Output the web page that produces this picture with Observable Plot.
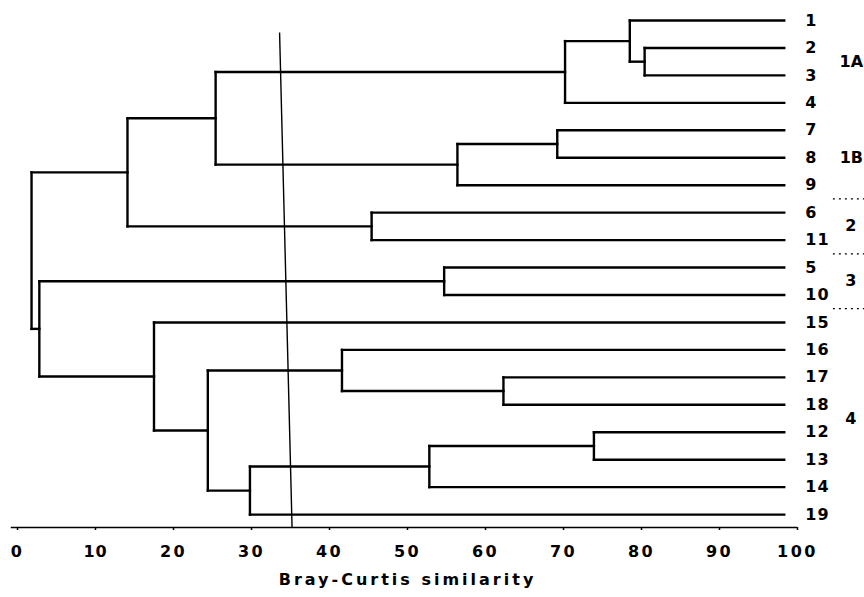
<!DOCTYPE html>
<html><head><meta charset="utf-8">
<script src="https://cdn.jsdelivr.net/npm/d3@7"></script>
<script src="https://cdn.jsdelivr.net/npm/@observablehq/plot@0.6"></script>
<style>
body{margin:0;background:#fff}
#chart svg{display:block;background:#fff}
</style>
</head><body><div id="chart"></div>
<script>
// Leaves, top to bottom
const leaves = ["1","2","3","4","7","8","9","6","11","5","10","15","16","17","18","12","13","14","19"];
// Merges: node id, left child, right child, similarity (%)
const mergeIds        = ["A","B","C","D","E","G","F","H","K","R","Q","O","P","N","M","L","J","I"];
const mergeLeft       = ["2","1","B","7","D","C","6","G","5","12","R","Q","17","16","N","15","K","H"];
const mergeRight      = ["3","A","4","8","9","E","11","F","10","13","14","19","18","P","O","M","L","J"];
const mergeSimilarity = [80.4,78.5,70.2,69.2,56.4,25.4,45.4,14.1,54.7,73.9,52.8,29.8,62.3,41.6,24.4,17.5,2.8,1.8];
const leafSimilarity = 98.3;
// Groups on the right
const groupLabels = ["1A","1B","2","3","4"];
const groupFirst  = ["1","7","6","5","15"];
const groupLast   = ["4","9","11","10","19"];
// Cut-off line (similarity at its top and bottom ends, as scanned)
const cutoffSimilarity = [33.6, 35.2];
// Axis
const xTicks = [0,10,20,30,40,50,60,70,80,90,100];
const xLabel = "Bray-Curtis similarity";

// Build tree geometry
const pos = new Map();
leaves.forEach((l,i)=>pos.set(l,{x:leafSimilarity,y:i}));
const segs = [];
mergeIds.forEach((id,k)=>{
  const s = mergeSimilarity[k];
  const a = pos.get(mergeLeft[k]), b = pos.get(mergeRight[k]);
  segs.push({x1:a.x,y1:a.y,x2:s,y2:a.y});
  segs.push({x1:b.x,y1:b.y,x2:s,y2:b.y});
  segs.push({x1:s,y1:a.y,x2:s,y2:b.y});
  pos.set(id,{x:s,y:(a.y+b.y)/2});
});
const idx = l => leaves.indexOf(l);
const groups = groupLabels.map((g,i)=>({label:g, y:(idx(groupFirst[i])+idx(groupLast[i]))/2}));
const seps = [];
for (let i=1;i<groupLabels.length-1;i++){
  seps.push({y:(idx(groupLast[i]) + idx(groupFirst[i+1]))/2});
}
const yMax = leaves.length - 1 + 0.47;

const font = "DejaVu Sans, Arial, sans-serif";
const chart = Plot.plot({
  width: 864, height: 597,
  marginLeft: 17, marginRight: 67, marginTop: 20, marginBottom: 70,
  x: {domain:[0,100], axis: null},
  y: {domain:[0,yMax], reverse: true, axis: null},
  style: {fontFamily: font, fontWeight: "bold", color: "#000", background: "#fff"},
  marks: [
    Plot.link(segs, {x1:"x1", y1:"y1", x2:"x2", y2:"y2", stroke:"#000", strokeWidth:2.4, strokeLinecap:"square"}),
    Plot.link([cutoffSimilarity], {x1:d=>d[0], y1:()=>0.44, x2:d=>d[1], y2:()=>yMax, stroke:"#000", strokeWidth:1.4}),
    Plot.ruleY([yMax], {x1:-0.8, x2:100, stroke:"#000", strokeWidth:1.6}),
    Plot.axisX({anchor:"bottom", ticks:xTicks, tickSize:3, tickPadding:15, tickFormat:d=>String(d), fontSize:16, fontWeight:"bold", label:null, stroke:"#000", strokeWidth:1.5}),
    Plot.text(leaves, {x:101, y:(d,i)=>i, text:d=>d, textAnchor:"start", fontSize:16, fontWeight:"bold", fill:"#000"}),
    Plot.text(groups, {x:106.9, y:"y", text:"label", textAnchor:"middle", fontSize:16, fontWeight:"bold", fill:"#000"}),
    Plot.ruleY(seps, {y:"y", x1:104.6, x2:108.6, stroke:"#000", strokeWidth:1.3, strokeDasharray:"2,4"}),
    Plot.text([xLabel], {x:50, frameAnchor:"bottom", dy:57, text:d=>d, textAnchor:"middle", fontSize:16, fontWeight:"bold", fill:"#000"})
  ]
});
document.getElementById("chart").appendChild(chart);
d3.select(chart).selectAll('g[aria-label="x-axis tick label"] text').style("letter-spacing","2.5px");
d3.select(chart).selectAll('text').filter(function(){return this.textContent === xLabel;}).style("letter-spacing","3px");
d3.select(chart).selectAll('text').filter(function(){return leaves.includes(this.textContent);}).style("letter-spacing","1px");
</script>
</body></html>
